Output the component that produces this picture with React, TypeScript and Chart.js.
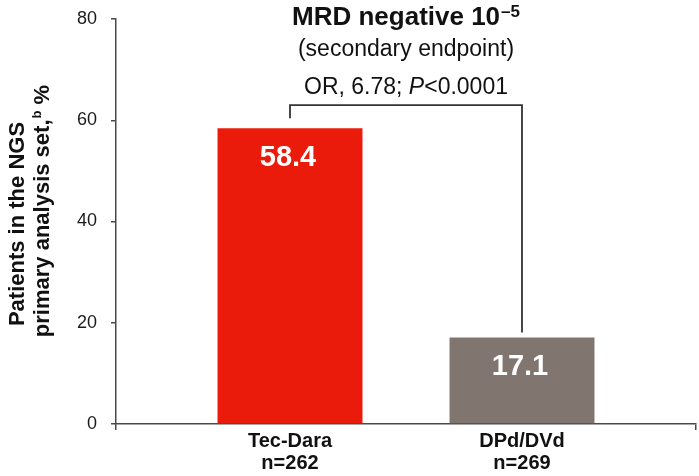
import React, { useEffect, useRef } from 'react';
import { Chart, registerables } from 'chart.js';

Chart.register(...registerables);

const FONT = '"Liberation Sans", Arial, Helvetica, sans-serif';

// ---- data ----
const categories = ['Tec-Dara', 'DPd/DVd'];
const sampleSizes = ['n=262', 'n=269'];
const values = [58.4, 17.1];
const barColors = ['#EA1B0A', '#817570'];
const yTicks = [0, 20, 40, 60, 80];
const titleMain = 'MRD negative 10';
const titleSup = '–5';
const subtitle = '(secondary endpoint)';
const statPrefix = 'OR, 6.78; ';
const statItalic = 'P';
const statSuffix = '<0.0001';
const yTitleLine1 = 'Patients in the NGS';
const yTitleLine2 = 'primary analysis set,';
const yTitleSup = 'b';
const yTitleTail = ' %';
const bracketLevel = 63;

const overlayPlugin = {
  id: 'overlay',
  afterDatasetsDraw(chart: any) {
    const ctx: CanvasRenderingContext2D = chart.ctx;
    const bars = chart.getDatasetMeta(0).data;
    const yScale = chart.scales.y;
    const area = chart.chartArea;
    ctx.save();

    // value labels inside bars
    ctx.fillStyle = '#ffffff';
    ctx.font = `bold 29px ${FONT}`;
    ctx.textAlign = 'center';
    ctx.textBaseline = 'alphabetic';
    bars.forEach((b: any, i: number) => {
      ctx.fillText(values[i].toFixed(1), b.x - 2, b.y + 38);
    });

    // significance bracket
    const top = yScale.getPixelForValue(bracketLevel);
    ctx.strokeStyle = '#333333';
    ctx.lineWidth = 1.8;
    ctx.beginPath();
    ctx.moveTo(bars[0].x, bars[0].y - 10);
    ctx.lineTo(bars[0].x, top);
    ctx.lineTo(bars[1].x, top);
    ctx.lineTo(bars[1].x, bars[1].y - 5);
    ctx.stroke();

    // titles
    const cx = (area.left + area.right) / 2;
    ctx.fillStyle = '#111111';
    ctx.textAlign = 'left';
    ctx.font = `bold 26px ${FONT}`;
    const w1 = ctx.measureText(titleMain).width;
    ctx.font = `bold 17px ${FONT}`;
    const w2 = ctx.measureText(titleSup).width;
    let x = cx - (w1 + w2 + 1) / 2;
    ctx.font = `bold 26px ${FONT}`;
    ctx.fillText(titleMain, x, 25);
    ctx.font = `bold 17px ${FONT}`;
    ctx.fillText(titleSup, x + w1 + 1, 17);

    ctx.font = `23px ${FONT}`;
    ctx.textAlign = 'center';
    ctx.fillText(subtitle, cx, 56);

    ctx.textAlign = 'left';
    ctx.font = `23px ${FONT}`;
    const a = ctx.measureText(statPrefix).width;
    const c = ctx.measureText(statSuffix).width;
    ctx.font = `italic 23px ${FONT}`;
    const bW = ctx.measureText(statItalic).width;
    x = cx - (a + bW + c) / 2;
    ctx.font = `23px ${FONT}`;
    ctx.fillText(statPrefix, x, 94);
    ctx.font = `italic 23px ${FONT}`;
    ctx.fillText(statItalic, x + a, 94);
    ctx.font = `23px ${FONT}`;
    ctx.fillText(statSuffix, x + a + bW, 94);

    // rotated y-axis title
    const fs = 22;
    ctx.save();
    ctx.translate(24, 224);
    ctx.rotate(-Math.PI / 2);
    ctx.font = `bold ${fs}px ${FONT}`;
    ctx.textAlign = 'center';
    ctx.fillText(yTitleLine1, 0, 0);
    ctx.restore();

    ctx.save();
    ctx.translate(49, 211);
    ctx.rotate(-Math.PI / 2);
    ctx.textAlign = 'left';
    ctx.font = `bold ${fs}px ${FONT}`;
    const p1 = ctx.measureText(yTitleLine2).width;
    const p3 = ctx.measureText(yTitleTail).width;
    ctx.font = `bold 13px ${FONT}`;
    const p2 = ctx.measureText(yTitleSup).width;
    const sx = -(p1 + p2 + p3 + 1) / 2;
    ctx.font = `bold ${fs}px ${FONT}`;
    ctx.fillText(yTitleLine2, sx, 0);
    ctx.font = `bold 13px ${FONT}`;
    ctx.fillText(yTitleSup, sx + p1 + 1, -8);
    ctx.font = `bold ${fs}px ${FONT}`;
    ctx.fillText(yTitleTail, sx + p1 + p2 + 1, 0);
    ctx.restore();

    ctx.restore();
  },
};

export default function App() {
  const ref = useRef<HTMLCanvasElement | null>(null);

  useEffect(() => {
    if (!ref.current) return;
    Chart.defaults.font.family = FONT;
    const xMin = -0.75;
    const xMax = categories.length - 0.25;
    const xTickValues = [xMin, ...categories.map((_, i) => i), xMax];
    const chart = new Chart(ref.current, {
      type: 'bar',
      data: {
        datasets: [
          {
            data: values.map((v, i) => ({ x: i, y: v })),
            backgroundColor: barColors,
            borderWidth: 0,
            barPercentage: 0.833,
            categoryPercentage: 1,
          },
        ],
      },
      options: {
        responsive: false,
        animation: false,
        layout: { padding: { left: 0, right: 3, top: 19, bottom: 0 } },
        plugins: {
          legend: { display: false },
          tooltip: { enabled: false },
          title: { display: false },
        },
        scales: {
          x: {
            type: 'linear',
            offset: false,
            min: xMin,
            max: xMax,
            afterBuildTicks: (s: any) => {
              s.ticks = xTickValues.map((v) => ({ value: v }));
            },
            afterFit: (s: any) => {
              s.height = 52;
            },
            grid: {
              offset: false,
              drawOnChartArea: false,
              drawTicks: true,
              tickLength: 6,
              lineWidth: 1.5,
              color: (c: any) =>
                c.tick && Number.isInteger(c.tick.value) ? 'rgba(0,0,0,0)' : '#4a4a4a',
            },
            border: { display: true, color: '#4a4a4a', width: 1.5 },
            ticks: {
              autoSkip: false,
              maxRotation: 0,
              padding: 0,
              color: '#111111',
              font: { size: 20, weight: 'bold', lineHeight: 1.1 },
              callback: (v: any) => {
                const i = Number(v);
                return Number.isInteger(i) && i >= 0 && i < categories.length
                  ? [categories[i], sampleSizes[i]]
                  : '';
              },
            },
          },
          y: {
            min: 0,
            max: 80,
            afterBuildTicks: (s: any) => {
              s.ticks = yTicks.map((v) => ({ value: v }));
            },
            afterFit: (s: any) => {
              s.width = 116;
              s.paddingTop = 0;
              s.paddingBottom = 0;
            },
            grid: {
              drawOnChartArea: false,
              drawTicks: true,
              tickLength: 5,
              lineWidth: 1.5,
              color: '#4a4a4a',
            },
            border: { display: true, color: '#4a4a4a', width: 1.5 },
            ticks: {
              padding: 14,
              color: '#1a1a1a',
              font: { size: 18 },
            },
          },
        },
      } as any,
      plugins: [overlayPlugin],
    });
    return () => chart.destroy();
  }, []);

  return (
    <div style={{ position: 'absolute', left: 0, top: 0, width: 699, height: 476, background: '#fff' }}>
      <canvas ref={ref} width={699} height={476} />
    </div>
  );
}
